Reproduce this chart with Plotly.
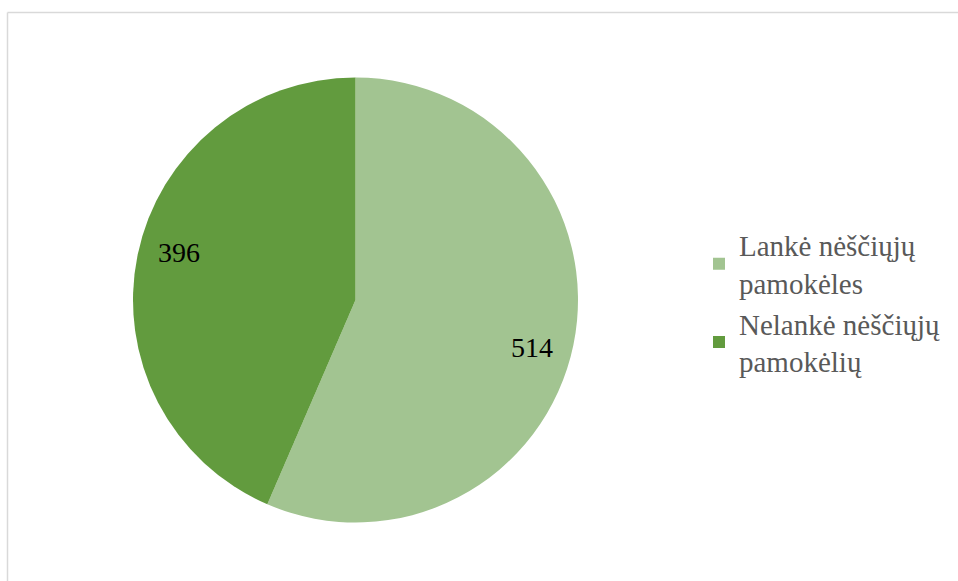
import math
import plotly.graph_objects as go

labels = ["Lankė nėščiųjų<br>pamokėles", "Nelankė nėščiųjų<br>pamokėlių"]
values = [514, 396]
colors = ["#A2C491", "#629B3E"]

W, H = 958, 581
cx, cy, R = 355.5, 300.0, 222.5  # pixel centre / radius of the pie
SERIF = "Liberation Serif, Times New Roman, serif"

dom_x = [(cx - R) / W, (cx + R) / W]
dom_y = [(H - cy - R) / H, (H - cy + R) / H]

fig = go.Figure()
fig.add_trace(go.Pie(
    labels=labels, values=values, sort=False, direction="clockwise", rotation=0,
    marker=dict(colors=colors, line=dict(width=0)),
    textinfo="none", hoverinfo="label+value",
    domain=dict(x=dom_x, y=dom_y),
))

# value labels placed near each slice's mid angle (derived from data)
total = sum(values)
start = 0.0
for v in values:
    frac = v / total
    mid = (start + frac / 2) * 2 * math.pi + math.radians(3.3)
    start += frac
    px = cx + 0.823 * R * math.sin(mid)
    py = cy - 0.823 * R * math.cos(mid)
    fig.add_annotation(x=px / W, y=1 - py / H, xref="paper", yref="paper",
                       xanchor="center", yanchor="middle",
                       text=str(v), showarrow=False,
                       font=dict(family=SERIF, size=28, color="#000000"))

# chart border (top and left visible)
fig.add_shape(type="line", xref="paper", yref="paper", x0=7.5 / W, x1=1.01, y0=1 - 12.5 / H, y1=1 - 12.5 / H,
              line=dict(color="#D9D9D9", width=1.5))
fig.add_shape(type="line", xref="paper", yref="paper", x0=7.5 / W, x1=7.5 / W, y0=-0.01, y1=1 - 12.5 / H,
              line=dict(color="#D9D9D9", width=1.5))

fig.update_layout(
    width=W, height=H, margin=dict(l=0, r=0, t=0, b=0),
    paper_bgcolor="white", plot_bgcolor="white",
    showlegend=True,
    legend=dict(x=699 / W, y=1 - 303 / H, xanchor="left", yanchor="middle",
                font=dict(family=SERIF, size=29, color="#595959"),
                itemclick=False),
)

fig.write_html("out.html")
